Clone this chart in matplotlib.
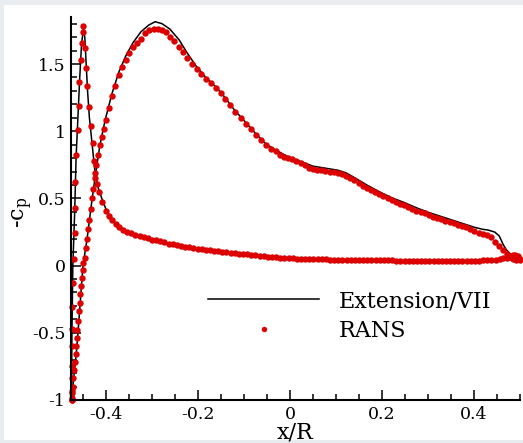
import matplotlib
matplotlib.use("Agg")
import matplotlib.pyplot as plt
from matplotlib.patches import Rectangle
from matplotlib.ticker import MultipleLocator, FuncFormatter

plt.rcParams["font.family"] = "DejaVu Serif"
plt.rcParams["mathtext.fontset"] = "dejavuserif"
plt.rcParams["axes.unicode_minus"] = False

# RANS surface pressure, lower side (stagnation point -> leading-edge peak -> trailing edge)
rans_lower_x = [-0.474, -0.474, -0.474, -0.474, -0.474, -0.473, -0.474, -0.474, -0.472, -0.470,
                -0.467, -0.467, -0.467, -0.465, -0.461, -0.459, -0.458, -0.455, -0.453, -0.451,
                -0.449, -0.446, -0.443, -0.441, -0.436, -0.433, -0.428, -0.425, -0.423, -0.420,
                -0.415, -0.409, -0.400, -0.394, -0.387, -0.379, -0.371, -0.363, -0.354, -0.345,
                -0.336, -0.327, -0.318, -0.309, -0.300, -0.291, -0.282, -0.273, -0.264, -0.255,
                -0.246, -0.237, -0.228, -0.219, -0.210, -0.201, -0.192, -0.183, -0.174, -0.165,
                -0.156, -0.147, -0.138, -0.129, -0.120, -0.111, -0.102, -0.093, -0.084, -0.075,
                -0.066, -0.057, -0.048, -0.039, -0.030, -0.021, -0.012, -0.003, 0.006, 0.015,
                0.024, 0.033, 0.042, 0.051, 0.060, 0.069, 0.078, 0.087, 0.096, 0.105,
                0.114, 0.123, 0.132, 0.141, 0.150, 0.159, 0.168, 0.177, 0.186, 0.195,
                0.204, 0.213, 0.222, 0.231, 0.240, 0.249, 0.258, 0.267, 0.276, 0.285,
                0.294, 0.303, 0.312, 0.321, 0.330, 0.339, 0.348, 0.357, 0.366, 0.375,
                0.384, 0.393, 0.402, 0.411, 0.420, 0.429, 0.438, 0.447, 0.456, 0.464,
                0.471, 0.478, 0.484, 0.490, 0.495, 0.499]
rans_lower_cp = [-1.00, -0.985, -0.93, -0.84, -0.75, -0.60, -0.47, -0.31, -0.13, 0.05,
                 0.24, 0.43, 0.62, 0.82, 1.01, 1.19, 1.37, 1.53, 1.66, 1.74,
                 1.78, 1.62, 1.47, 1.34, 1.18, 1.04, 0.91, 0.78, 0.69, 0.61,
                 0.545, 0.475, 0.410, 0.372, 0.340, 0.312, 0.288, 0.268, 0.252, 0.241,
                 0.231, 0.222, 0.211, 0.202, 0.194, 0.187, 0.180, 0.172, 0.164, 0.158,
                 0.152, 0.146, 0.140, 0.135, 0.131, 0.127, 0.122, 0.118, 0.114, 0.110,
                 0.106, 0.102, 0.099, 0.095, 0.092, 0.089, 0.086, 0.083, 0.080, 0.077,
                 0.074, 0.070, 0.067, 0.064, 0.061, 0.058, 0.056, 0.054, 0.053, 0.052,
                 0.051, 0.050, 0.049, 0.048, 0.047, 0.046, 0.046, 0.045, 0.045, 0.044,
                 0.044, 0.043, 0.043, 0.042, 0.042, 0.041, 0.041, 0.040, 0.040, 0.040,
                 0.039, 0.039, 0.039, 0.038, 0.038, 0.038, 0.037, 0.037, 0.037, 0.036,
                 0.036, 0.036, 0.036, 0.035, 0.035, 0.035, 0.035, 0.035, 0.035, 0.036,
                 0.036, 0.036, 0.037, 0.038, 0.039, 0.040, 0.042, 0.045, 0.048, 0.053,
                 0.060, 0.068, 0.076, 0.080, 0.070, 0.050]

# RANS surface pressure, upper side (stagnation point -> suction peak -> trailing edge)
rans_upper_x = [-0.474, -0.473, -0.472, -0.471, -0.469, -0.468, -0.466, -0.465, -0.463, -0.462,
                -0.460, -0.459, -0.457, -0.456, -0.454, -0.453, -0.451, -0.450, -0.446, -0.443,
                -0.441, -0.439, -0.436, -0.433, -0.431, -0.428, -0.424, -0.422, -0.418, -0.413,
                -0.409, -0.405, -0.401, -0.394, -0.387, -0.380, -0.372, -0.365, -0.357, -0.350,
                -0.341, -0.333, -0.324, -0.315, -0.307, -0.296, -0.287, -0.278, -0.270, -0.261,
                -0.252, -0.242, -0.233, -0.223, -0.212, -0.203, -0.193, -0.183, -0.172, -0.161,
                -0.151, -0.141, -0.130, -0.120, -0.107, -0.096, -0.085, -0.074, -0.063, -0.052,
                -0.042, -0.031, -0.022, -0.013, -0.004, 0.005, 0.014, 0.023, 0.032, 0.041,
                0.050, 0.059, 0.068, 0.077, 0.086, 0.095, 0.104, 0.113, 0.122, 0.131,
                0.140, 0.149, 0.158, 0.167, 0.176, 0.185, 0.194, 0.203, 0.212, 0.221,
                0.230, 0.239, 0.248, 0.257, 0.266, 0.275, 0.284, 0.293, 0.302, 0.311,
                0.320, 0.329, 0.338, 0.347, 0.356, 0.365, 0.374, 0.383, 0.392, 0.401,
                0.410, 0.419, 0.428, 0.437, 0.446, 0.455, 0.463, 0.471, 0.478, 0.485,
                0.492, 0.499]
rans_upper_cp = [-1.00, -0.95, -0.90, -0.84, -0.78, -0.72, -0.66, -0.60, -0.54, -0.48,
                 -0.41, -0.34, -0.28, -0.21, -0.15, -0.09, -0.03, 0.02, 0.06, 0.13,
                 0.20, 0.27, 0.34, 0.42, 0.50, 0.57, 0.65, 0.75, 0.82, 0.90,
                 0.96, 1.02, 1.08, 1.17, 1.26, 1.34, 1.42, 1.48, 1.53, 1.58,
                 1.63, 1.66, 1.69, 1.73, 1.75, 1.76, 1.76, 1.75, 1.74, 1.70,
                 1.67, 1.63, 1.592, 1.543, 1.500, 1.460, 1.425, 1.388, 1.356, 1.319,
                 1.281, 1.239, 1.194, 1.144, 1.102, 1.057, 1.013, 0.970, 0.933, 0.896,
                 0.871, 0.850, 0.825, 0.810, 0.800, 0.790, 0.775, 0.760, 0.745, 0.730,
                 0.720, 0.715, 0.710, 0.705, 0.700, 0.695, 0.690, 0.680, 0.670, 0.655,
                 0.635, 0.615, 0.595, 0.580, 0.560, 0.545, 0.530, 0.515, 0.500, 0.485,
                 0.470, 0.460, 0.450, 0.435, 0.420, 0.410, 0.400, 0.390, 0.375, 0.365,
                 0.355, 0.345, 0.335, 0.325, 0.315, 0.305, 0.295, 0.285, 0.270, 0.260,
                 0.245, 0.235, 0.225, 0.210, 0.175, 0.145, 0.115, 0.085, 0.065, 0.050,
                 0.045, 0.040]

# Extension/VII prediction
ext_lower_x = [-0.475, -0.474, -0.472, -0.468, -0.465, -0.461, -0.457, -0.453, -0.449, -0.446,
               -0.443, -0.440, -0.436, -0.430, -0.424, -0.417, -0.409, -0.400, -0.390, -0.375,
               -0.359, -0.341, -0.319, -0.297, -0.268, -0.232, -0.196, -0.159, -0.123, -0.087,
               -0.051, -0.022, 0.000, 0.050, 0.100, 0.150, 0.200, 0.250, 0.300, 0.350,
               0.400, 0.430, 0.450, 0.465, 0.478, 0.488, 0.495, 0.500]
ext_lower_cp = [-1.00, -0.50, 0.00, 0.40, 0.80, 1.10, 1.40, 1.65, 1.76, 1.70,
                1.50, 1.30, 1.10, 0.90, 0.70, 0.58, 0.50, 0.42, 0.36, 0.30,
                0.26, 0.235, 0.21, 0.19, 0.165, 0.142, 0.124, 0.107, 0.092, 0.080,
                0.067, 0.057, 0.053, 0.047, 0.043, 0.040, 0.038, 0.036, 0.035, 0.035,
                0.036, 0.040, 0.045, 0.055, 0.070, 0.080, 0.070, 0.045]
ext_upper_x = [-0.475, -0.463, -0.450, -0.441, -0.433, -0.424, -0.413, -0.402, -0.387, -0.372,
               -0.357, -0.341, -0.324, -0.307, -0.293, -0.278, -0.261, -0.241, -0.223, -0.203,
               -0.183, -0.161, -0.141, -0.120, -0.096, -0.074, -0.052, -0.031, -0.004, 0.023,
               0.050, 0.077, 0.104, 0.122, 0.140, 0.167, 0.194, 0.221, 0.248, 0.275,
               0.302, 0.329, 0.356, 0.383, 0.401, 0.419, 0.430, 0.445, 0.455, 0.463,
               0.470, 0.478, 0.487, 0.495, 0.500]
ext_upper_cp = [-1.00, -0.60, 0.00, 0.20, 0.42, 0.65, 0.90, 1.08, 1.28, 1.44,
                1.56, 1.66, 1.74, 1.79, 1.815, 1.80, 1.76, 1.68, 1.58, 1.48,
                1.40, 1.33, 1.25, 1.155, 1.065, 0.98, 0.905, 0.86, 0.81, 0.775,
                0.74, 0.725, 0.71, 0.69, 0.655, 0.60, 0.55, 0.505, 0.47, 0.43,
                0.395, 0.365, 0.335, 0.305, 0.285, 0.27, 0.265, 0.25, 0.22, 0.16,
                0.12, 0.09, 0.065, 0.05, 0.045]

red = "#dd0000"

fig = plt.figure(figsize=(5.23, 4.43), dpi=100, facecolor="#e9ecef")
# white drawing area inside the grey border
fig.patches.append(Rectangle((4 / 523, 3 / 443), 1 - 4 / 523, 1 - 8 / 443,
                             transform=fig.transFigure, facecolor="white",
                             edgecolor="none", zorder=-10))
ax = fig.add_axes([71 / 523, 43 / 443, 449 / 523, 383 / 443])
ax.set_zorder(5)

ax.plot(ext_lower_x, ext_lower_cp, color="black", lw=1.1, label="Extension/VII", clip_on=False)
ax.plot(ext_upper_x, ext_upper_cp, color="black", lw=1.1, clip_on=False)
ax.plot(rans_lower_x, rans_lower_cp, "o", color=red, ms=4.6, mec="none", label="RANS", clip_on=False)
ax.plot(rans_upper_x, rans_upper_cp, "o", color=red, ms=4.6, mec="none", clip_on=False)

ax.set_xlim(-0.476, 0.5)
ax.set_ylim(-1.0, 1.85)

for side in ("top", "right"):
    ax.spines[side].set_visible(False)
for side in ("left", "bottom"):
    ax.spines[side].set_linewidth(1.5)

ax.xaxis.set_major_locator(MultipleLocator(0.2))
ax.xaxis.set_minor_locator(MultipleLocator(0.05))
ax.yaxis.set_major_locator(MultipleLocator(0.5))
ax.yaxis.set_minor_locator(MultipleLocator(0.1))
fmt = FuncFormatter(lambda v, p: "%g" % (round(v, 3) + 0.0))
ax.xaxis.set_major_formatter(fmt)
ax.yaxis.set_major_formatter(fmt)
ax.tick_params(which="both", direction="in", top=False, right=False, width=1.1,
               labelsize=12.5, colors="black")
ax.tick_params(which="major", length=7.5, pad=4)
ax.tick_params(which="minor", length=4)

ax.set_xlabel("x/R", fontsize=16)
ax.set_ylabel(r"-c$_\mathrm{p}$", fontsize=16)
ax.xaxis.set_label_coords(0.5, -0.057)
ax.yaxis.set_label_coords(-0.08, 0.49)

ax.legend(loc="upper left", bbox_to_anchor=(208 / 523, 1 - 290 / 443),
          bbox_transform=fig.transFigure, frameon=False, fontsize=16,
          handlelength=5.0, handletextpad=0.9, borderpad=0, borderaxespad=0,
          labelspacing=0.35, numpoints=1, markerscale=0.85)

fig.savefig("out.png", dpi=100, facecolor=fig.get_facecolor())
